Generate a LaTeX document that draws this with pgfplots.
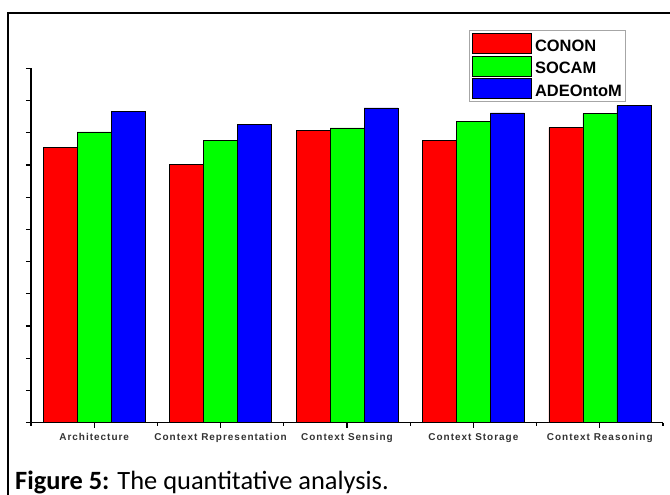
\documentclass[border=0pt]{standalone}
\usepackage{fontspec}
\setmainfont{Carlito}
\newfontfamily\ticklab[LetterSpace=10]{Liberation Sans}
\newfontfamily\legfont{Liberation Sans}
\usepackage{pgfplots}
\pgfplotsset{compat=1.18}
\definecolor{cred}{RGB}{255,0,0}
\definecolor{cgreen}{RGB}{0,255,0}
\definecolor{cblue}{RGB}{0,0,255}
\pgfplotsset{mylegend/.style={legend image code/.code={\draw[#1,draw=black,line width=0.5bp] (0bp,-7bp) rectangle (59bp,13bp);}}}
\begin{document}
\begin{tikzpicture}
\useasboundingbox (0,0) rectangle (670bp,495bp);
\draw[line width=1.2bp] (8bp,0) -- (8bp,482bp) -- (670bp,482bp);
\begin{axis}[
  at={(31bp,72.3bp)}, anchor=south west,
  scale only axis, width=632bp, height=354.4bp,
  xmin=0.5, xmax=5.5, ymin=0, ymax=110,
  enlargelimits=false,
  axis lines*=left,
  axis line style={line width=1.3bp},
  ybar=0pt, bar width=34bp,
  xtick={1,2,3,4,5},
  minor xtick={0.5,1.5,2.5,3.5,4.5,5.5},
  xticklabels={Architecture,Context Representation,Context Sensing,Context Storage,Context Reasoning},
  ytick={0,10,...,110},
  yticklabels={},
  tick align=outside,
  major tick length=5bp, minor tick length=3bp,
  tick style={line width=1.1bp, black},
  xticklabel style={font=\ticklab\bfseries\fontsize{10}{11}\selectfont, text=black!80, yshift=-2.5bp},
  legend style={at={(0.693,1.108)}, anchor=north west, draw=gray!70, line width=0.8bp,
    inner sep=2.5bp, row sep=1.8bp, font=\legfont\bfseries\fontsize{16.5}{18}\selectfont,
    nodes={inner sep=1.2bp},
    /tikz/every odd column/.append style={column sep=2.5bp}},
  legend cell align=left,
]
\addplot[fill=cred, draw=black, line width=0.5bp, mylegend] coordinates {(1,85.4) (2,80.2) (3,90.7) (4,87.7) (5,91.6)};
\addplot[fill=cgreen, draw=black, line width=0.5bp, mylegend] coordinates {(1,90.3) (2,87.7) (3,91.5) (4,93.6) (5,95.9)};
\addplot[fill=cblue, draw=black, line width=0.5bp, mylegend] coordinates {(1,96.6) (2,92.5) (3,97.7) (4,96.2) (5,98.4)};
\legend{CONON,SOCAM,ADEOntoM}
\end{axis}
\node[anchor=base west, inner sep=0] at (15bp,6bp) {\fontsize{26.5}{30}\selectfont\textbf{Figure 5:} The quantitative analysis.};
\end{tikzpicture}
\end{document}
